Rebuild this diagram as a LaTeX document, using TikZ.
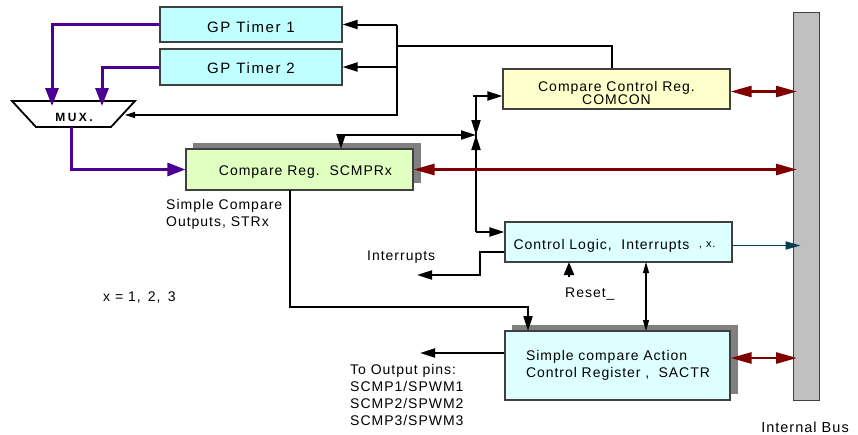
\documentclass[tikz,border=0pt]{standalone}
\usepackage{fontspec}
\setmainfont{Liberation Sans}[LetterSpace=7]
\newfontfamily\timerfont{Liberation Sans}[LetterSpace=11]
\newfontfamily\muxfont{Liberation Sans}[LetterSpace=20]
\usetikzlibrary{arrows.meta,calc}
\definecolor{timerfill}{HTML}{C0FFFF}
\definecolor{logicfill}{HTML}{DDFFFF}
\definecolor{cmpfill}{HTML}{E0FFC0}
\definecolor{comfill}{HTML}{FFFFCC}
\definecolor{shadowgray}{HTML}{808080}
\definecolor{busgray}{HTML}{C0C0C0}
\definecolor{boxedge}{HTML}{404040}
\definecolor{muxpurple}{HTML}{4B0090}
\definecolor{busred}{HTML}{800000}
\definecolor{teal2}{HTML}{004055}
\newcommand{\lowerby}[2]{\raisebox{-#1}[\height][\depth]{#2}}
\tikzset{
  box/.style={draw=boxedge, line width=1.1pt, inner sep=0pt, align=center, font=\fontsize{14}{16}\selectfont},
  blk/.style={line width=2pt, -{Triangle[length=15pt,width=9pt]}},
  thin/.style={line width=1.1pt},
  pur/.style={draw=muxpurple, line width=3pt, -{Triangle[length=18pt,width=13pt]}},
  red2/.style={draw=busred, line width=2.6pt, {Triangle[length=21pt,width=11pt]}-{Triangle[length=21pt,width=11pt]}},
  lbl/.style={inner sep=0pt, font=\fontsize{14}{17}\selectfont, align=left},
}
\begin{document}
\begin{tikzpicture}[x=1pt,y=-1pt]
\useasboundingbox (0,0) rectangle (858,434);
% shadows
\fill[shadowgray] (193,143) rectangle (421,183);
\fill[shadowgray] (512,325) rectangle (738,394);
% bus
\draw[boxedge, fill=busgray, line width=1pt] (793,12) rectangle (819,400);
\node[anchor=center, lbl, font=\fontsize{14.5}{17}\selectfont] (buslbl) at (805,427) {Internal Bus};
\coordinate (busR) at (797,0);
% boxes
\node[box, fill=timerfill, minimum width=182pt, minimum height=35pt, font=\fontsize{15}{16}\timerfont] (t1) at (251,24.5) {\lowerby{2.5pt}{GP Timer 1}};
\node[box, fill=timerfill, minimum width=182pt, minimum height=36pt, font=\fontsize{15}{16}\timerfont] (t2) at (251,67) {\lowerby{1pt}{GP Timer 2}};
\node[box, fill=cmpfill, minimum width=227pt, minimum height=41pt] (cmp) at (299.5,169.5) {\lowerby{3pt}{\hspace*{12pt}Compare Reg.\ \ SCMPRx}};
\node[box, fill=comfill, minimum width=227pt, minimum height=40pt, font=\fontsize{14}{12}\selectfont] (com) at (616.5,89) {\lowerby{6pt}{\begin{tabular}{@{}c@{}}Compare Control Reg.\\COMCON\end{tabular}}};
\node[box, fill=logicfill, minimum width=227pt, minimum height=40pt] (ctl) at (618.5,242) {\lowerby{4pt}{Control Logic,\ \ Interrupts \ \raisebox{2pt}{\fontsize{11}{11}\selectfont, x.}}\hspace*{8pt}};
\node[box, fill=logicfill, minimum width=225pt, minimum height=69pt, align=left, text width=225pt, font=\fontsize{14}{17}\selectfont] (sac) at (617.5,365.5) {\hspace*{21pt}Simple compare Action\\\hspace*{21pt}Control Register ,\ \ SACTR};
% MUX
\draw[line width=1.8pt, fill=white] (12,101) -- (135,101) -- (111,127) -- (36,127) -- cycle;
\node[inner sep=0pt, font=\fontsize{12}{12}\muxfont\bfseries] (mux) at (74,117) {MUX.};
\coordinate (muxin1) at (52,106);
\coordinate (muxin2) at (102,106);
\coordinate (muxout) at (71,127);
\coordinate (muxsel) at (125,115);
% purple
\draw[pur] (t1.west) -| (muxin1);
\draw[pur] (t2.west) -| (muxin2);
\draw[pur] (muxout) |- (cmp.west);
% timer control lines
\coordinate (tv) at (397,46);
\draw[line width=2pt] ([xshift=-4.5pt]com.north) |- (tv);
\draw[line width=2pt] (397,24.5) -- (397,67);
\draw[blk] (397,24.5) -- (t1.east);
\draw[blk] (397,67) -- (t2.east);
\draw[thin, -{Triangle[length=10pt,width=6pt]}] (397,67) -- (397,115) -- (muxsel);
% junction
\coordinate (J) at (476,135);
\draw[line width=2pt] (473,96) -- (476,96) -- (476,232);
\draw[blk] (473,96) -- ([yshift=-7pt]com.west);
\draw[blk] (476,117) -- (J);
\draw[blk] (476,153) -- (J);
\draw[line width=2pt, {Triangle[length=15pt,width=9pt]}-{Triangle[length=15pt,width=9pt]}] (341,149) -- (341,135) -- (J);
\draw[blk] (476,232) -- ([yshift=10pt]ctl.west);
% interrupts
\draw[blk] ([yshift=-10pt]ctl.west) -- (480,252) -- (480,275) -- (417,275);
\node[lbl, anchor=west] (intlbl) at (367,257) {Interrupts};
% reset
\draw[line width=2.4pt, -{Triangle[length=13pt,width=10pt]}] (569,277) -- (569,262);
\node[lbl, anchor=west] (rst) at (565,294) {Reset\_};
% ctl <-> sac
\draw[thin, {Triangle[length=11pt,width=6pt]}-{Triangle[length=11pt,width=6pt]}] (646,262) -- (646,331);
% cmp -> sac
\draw[blk] (290,190) |- (528,307) -- (528,331);
% sac -> output
\draw[blk] ([yshift=12.5pt]sac.west) -- (420,353);
\node[lbl, anchor=north west, font=\fontsize{14}{17}\selectfont] (outlbl) at (350,364) {To Output pins:\\SCMP1/SPWM1\\SCMP2/SPWM2\\SCMP3/SPWM3};
% labels
\node[lbl, anchor=north west, font=\fontsize{14}{17.5}\selectfont] (strx) at (166,199) {Simple Compare\\Outputs, STRx};
\node[lbl, anchor=west] (xeq) at (103,298) {x = 1,\, 2,\, 3};
% red bus arrows
\draw[red2] (cmp.east) -- (cmp.east -| busR);
\draw[red2] ([yshift=-2.5pt]com.east) -- ([yshift=-2.5pt]com.east -| busR);
\draw[red2] ([yshift=7.5pt]sac.east) -- ([yshift=7.5pt]sac.east -| busR);
\draw[draw=teal2, line width=1.8pt, -{Triangle[length=15pt,width=8pt]}] ([yshift=-3.5pt]ctl.east) -- ++(68,0);
\end{tikzpicture}
\end{document}
